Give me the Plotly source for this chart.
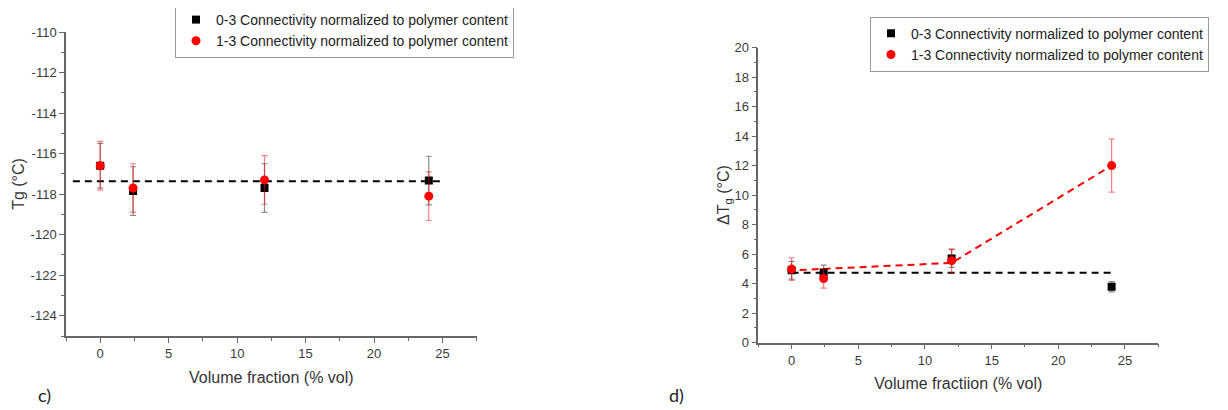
import plotly.graph_objects as go

# ---- data ----
vol = [0, 2.4, 12, 24]

# panel c) Tg
tg_03 = [-116.6, -117.85, -117.7, -117.33]
tg_03_err = [1.1, 1.2, 1.2, 1.2]
tg_13 = [-116.6, -117.7, -117.3, -118.1]
tg_13_err = [1.2, 1.2, 1.2, 1.2]
tg_fit_x = [-2, 25]
tg_fit_y = [-117.37, -117.37]

# panel d) delta Tg
dtg_03 = [4.9, 4.75, 5.7, 3.78]
dtg_03_err = [0.6, 0.5, 0.6, 0.35]
dtg_13 = [4.98, 4.34, 5.55, 12.0]
dtg_13_err = [0.77, 0.65, 0.8, 1.8]
dtg_fit03_x = [0, 24.3]
dtg_fit03_y = [4.73, 4.73]
dtg_fit13_x = [-0.3, 2.4, 12, 24]
dtg_fit13_y = [4.88, 5.0, 5.4, 12.0]

x_ticks = [0, 5, 10, 15, 20, 25]
tg_ticks = [-124, -122, -120, -118, -116, -114, -112, -110]
dtg_ticks = [0, 2, 4, 6, 8, 10, 12, 14, 16, 18, 20]

name03 = "0-3 Connectivity normalized to polymer content"
name13 = "1-3 Connectivity normalized to polymer content"

FONT = "Liberation Sans, Arial, sans-serif"
RED = "#ff0000"

fig = go.Figure()

# ---- panel c ----
fig.add_trace(go.Scatter(x=tg_fit_x, y=tg_fit_y, mode="lines", showlegend=False,
                         line=dict(color="black", width=2, dash="7px,5px"),
                         xaxis="x", yaxis="y", hoverinfo="skip"))
fig.add_trace(go.Scatter(x=vol, y=tg_03, mode="markers", name=name03, legend="legend",
                         marker=dict(symbol="square", size=8, color="black"),
                         error_y=dict(type="data", array=tg_03_err, color="rgba(60,60,60,0.6)",
                                      thickness=1.2, width=3),
                         xaxis="x", yaxis="y"))
fig.add_trace(go.Scatter(x=vol, y=tg_13, mode="markers", name=name13, legend="legend",
                         marker=dict(symbol="circle", size=9, color=RED),
                         error_y=dict(type="data", array=tg_13_err, color="rgba(255,0,0,0.5)",
                                      thickness=1.2, width=3),
                         xaxis="x", yaxis="y"))

# ---- panel d ----
fig.add_trace(go.Scatter(x=dtg_fit03_x, y=dtg_fit03_y, mode="lines", showlegend=False,
                         line=dict(color="black", width=2, dash="7px,5px"),
                         xaxis="x2", yaxis="y2", hoverinfo="skip"))
fig.add_trace(go.Scatter(x=dtg_fit13_x, y=dtg_fit13_y, mode="lines", showlegend=False,
                         line=dict(color=RED, width=2, dash="7px,5px"),
                         xaxis="x2", yaxis="y2", hoverinfo="skip"))
fig.add_trace(go.Scatter(x=vol, y=dtg_03, mode="markers", name=name03, legend="legend2",
                         marker=dict(symbol="square", size=8, color="black"),
                         error_y=dict(type="data", array=dtg_03_err, color="rgba(60,60,60,0.6)",
                                      thickness=1.2, width=3),
                         xaxis="x2", yaxis="y2"))
fig.add_trace(go.Scatter(x=vol, y=dtg_13, mode="markers", name=name13, legend="legend2",
                         marker=dict(symbol="circle", size=9, color=RED),
                         error_y=dict(type="data", array=dtg_13_err, color="rgba(255,0,0,0.5)",
                                      thickness=1.2, width=3),
                         xaxis="x2", yaxis="y2"))

W, H = 1228, 410
OFF = 8  # page body margin shifts the figure by 8px


def px(p):
    return (p - OFF) / W


def py(p):
    return 1 - (p - OFF) / H


def axis(**kw):
    base = dict(showline=True, linecolor="#666", linewidth=1.5, showgrid=False,
                zeroline=False, ticks="outside", ticklen=5, tickwidth=1.2, tickcolor="#666",
                tickfont=dict(family=FONT, size=13, color="#3a3a3a"), automargin=False)
    base.update(kw)
    return base


def title(text, standoff):
    return dict(text=text, font=dict(family=FONT, size=16, color="#333"), standoff=standoff)


def minor(dtick, tick0):
    return dict(ticks="outside", ticklen=3, tickwidth=1, tickcolor="#666", dtick=dtick, tick0=tick0)


fig.update_layout(
    width=W, height=H,
    margin=dict(l=0, r=0, t=0, b=0, autoexpand=False),
    paper_bgcolor="white", plot_bgcolor="white",
    font=dict(family=FONT, color="#333"),
    xaxis=axis(domain=[px(66), px(476.7)], range=[-2.5, 27.5], anchor="y",
               tickmode="array", tickvals=x_ticks, ticktext=[str(v) for v in x_ticks],
               title=title("Volume fraction (% vol)", 11), minor=minor(2.5, -2.5)),
    yaxis=axis(domain=[py(336), py(32)], range=[-125, -110], anchor="x",
               tickmode="array", tickvals=tg_ticks, ticktext=[str(v) for v in tg_ticks],
               title=title("Tg (°C)", 2), minor=minor(1, -125)),
    xaxis2=axis(domain=[px(758.3), px(1158.3)], range=[-2.5, 27.5], anchor="y2",
                tickmode="array", tickvals=x_ticks, ticktext=[str(v) for v in x_ticks],
                title=title("Volume fractiion (% vol)", 11), minor=minor(2.5, -2.5)),
    yaxis2=axis(domain=[py(342.5), py(47.7)], range=[0, 20], anchor="x2",
                tickmode="array", tickvals=dtg_ticks, ticktext=[str(v) for v in dtg_ticks],
                title=title("ΔT<sub>g</sub> (°C)", 0), minor=minor(1, 0)),
    legend=dict(x=px(175), y=py(3), xanchor="left", yanchor="top",
                bordercolor="#999", borderwidth=1, bgcolor="white",
                font=dict(family=FONT, size=14, color="#222"), itemwidth=30,
                tracegroupgap=0),
    legend2=dict(x=px(870), y=py(16.7), xanchor="left", yanchor="top",
                 bordercolor="#999", borderwidth=1, bgcolor="white",
                 font=dict(family=FONT, size=14, color="#222"), itemwidth=30,
                 tracegroupgap=0),
    annotations=[
        dict(text="c)", x=px(44), y=py(395), xref="paper", yref="paper",
             xanchor="center", yanchor="middle",
             showarrow=False, font=dict(family="Lato, sans-serif", size=18, color="#222")),
        dict(text="d)", x=px(676), y=py(395), xref="paper", yref="paper",
             xanchor="center", yanchor="middle",
             showarrow=False, font=dict(family="Lato, sans-serif", size=18, color="#222")),
    ],
)

fig.write_html("out.html")
